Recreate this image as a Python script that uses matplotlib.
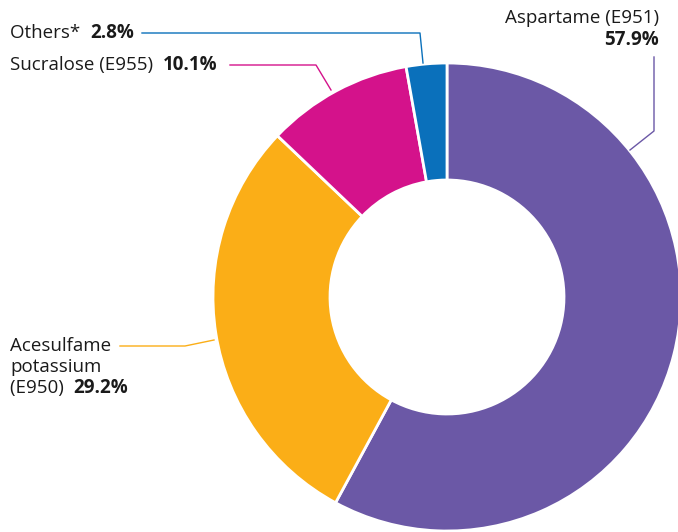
import matplotlib.pyplot as plt

# shares of sweetener use, clockwise from 12 o'clock
labels = ["Aspartame (E951)", "Acesulfame\npotassium\n(E950)", "Sucralose (E955)", "Others*"]
shares = [57.9, 29.2, 10.1, 2.8]
colours = ["#6b58a6", "#fbae17", "#d4128b", "#0a70bb"]

W, H = 678, 532
plt.rcParams['font.family'] = ['Open Sans', 'DejaVu Sans']

fig = plt.figure(figsize=(W / 100, H / 100), dpi=100)
ax = fig.add_axes([0, 0, 1, 1])

cx, cy = 447, H - 297
R = 234
ax.pie(shares, colors=colours, center=(cx, cy), radius=R, startangle=90,
       counterclock=False,
       wedgeprops=dict(width=R - 117, edgecolor='white', linewidth=2))
ax.set_xlim(0, W)
ax.set_ylim(0, H)
ax.set_aspect('equal')
ax.axis('off')

fs = 13.5
ink = '#1a1a1a'


def y(v):
    return H - v


# leader lines (picture coordinates)
ax.plot([654, 654, 630], [y(57), y(131), y(150)], color=colours[0], lw=1)
ax.plot([120, 185, 214], [y(346), y(346), y(340)], color=colours[1], lw=1)
ax.plot([230, 316, 331], [y(65), y(65), y(90)], color=colours[2], lw=1)
ax.plot([142, 420, 423], [y(33), y(33), y(63)], color=colours[3], lw=1)

# Aspartame
ax.text(659, y(18), labels[0], ha='right', va='center', fontsize=fs, color=ink)
ax.text(659, y(40), f"{shares[0]}%", ha='right', va='center', fontsize=fs,
        fontweight='bold', color=ink)

# Others / Sucralose
t = ax.text(10, y(33), labels[3] + "  ", ha='left', va='center', fontsize=fs, color=ink)
ax.annotate(f"{shares[3]}%", xycoords=t, xy=(1, 0.5), va='center', ha='left',
            fontsize=fs, fontweight='bold', color=ink)
t = ax.text(10, y(65), labels[2] + "  ", ha='left', va='center', fontsize=fs, color=ink)
ax.annotate(f"{shares[2]}%", xycoords=t, xy=(1, 0.5), va='center', ha='left',
            fontsize=fs, fontweight='bold', color=ink)

# Acesulfame (three lines)
lines = labels[1].split("\n")
ax.text(10, y(346), lines[0], ha='left', va='center', fontsize=fs, color=ink)
ax.text(10, y(367), lines[1], ha='left', va='center', fontsize=fs, color=ink)
t = ax.text(10, y(388), lines[2] + "  ", ha='left', va='center', fontsize=fs, color=ink)
ax.annotate(f"{shares[1]}%", xycoords=t, xy=(1, 0.5), va='center', ha='left',
            fontsize=fs, fontweight='bold', color=ink)

fig.savefig("out.png", dpi=100, facecolor='white')
